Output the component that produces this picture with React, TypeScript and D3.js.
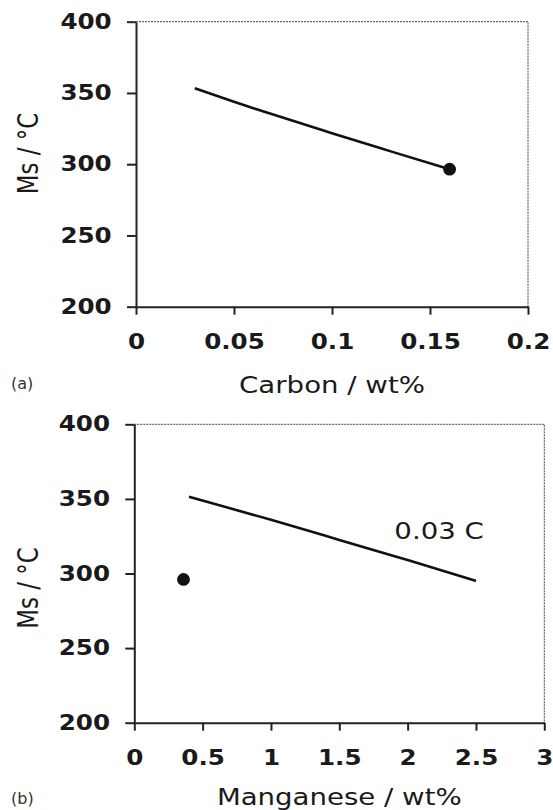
import { useEffect, useRef } from "react"
import * as d3 from "d3"

// values
const CARBON = [0.03, 0.05, 0.07, 0.1, 0.13, 0.16]
const MS_CARBON = [353.3, 343.8, 334.8, 321.8, 309, 296.5]
const MANGANESE = [0.4, 1, 1.5, 2, 2.5]
const MS_MANGANESE = [351.5, 336, 322.5, 309, 295]
const DOT_CARBON = [0.16, 296.5]
const DOT_MANGANESE = [0.36, 296]
const C_TICKS = [0, 0.05, 0.1, 0.15, 0.2]
const MN_TICKS = [0, 0.5, 1, 1.5, 2, 2.5, 3]
const MS_TICKS = [200, 250, 300, 350, 400]
const LINE_LABEL = "0.03 C"
const LINE_LABEL_POS = [2.23, 323]

const FONT = "'DejaVu Sans', Verdana, sans-serif"
const SX = 1.2 // the original figure is stretched sideways

export default function App() {
    const svgRef = useRef<SVGSVGElement>(null)

    useEffect(() => {
        const svg = d3.select(svgRef.current)
        svg.selectAll("*").remove()

        const panels = [
            {
                xs: CARBON, ys: MS_CARBON, dot: DOT_CARBON, xdomain: [0, 0.2], xticks: C_TICKS,
                left: 136, right: 528, top: 21.7, bottom: 306.7,
                xtitle: "Carbon / wt%", xtitleY: 393, ytitleY: 153.5, tag: "(a)", tagY: 389,
                label: null as string | null,
            },
            {
                xs: MANGANESE, ys: MS_MANGANESE, dot: DOT_MANGANESE, xdomain: [0, 3], xticks: MN_TICKS,
                left: 134.3, right: 544.3, top: 424.3, bottom: 722.7,
                xtitle: "Manganese / wt%", xtitleY: 805, ytitleY: 588, tag: "(b)", tagY: 804,
                label: LINE_LABEL,
            },
        ]

        panels.forEach(p => {
            const x = d3.scaleLinear().domain(p.xdomain).range([p.left, p.right])
            const y = d3.scaleLinear().domain([200, 400]).range([p.bottom, p.top])
            const g = svg.append("g")

            // dotted top / right border
            g.append("path")
                .attr("d", `M${p.left},${p.top}H${p.right}V${p.bottom}`)
                .attr("fill", "none")
                .attr("stroke", "#444")
                .attr("stroke-width", 1)
                .attr("stroke-dasharray", "2,1")

            const yAxis = g.append("g")
                .attr("transform", `translate(${p.left},0)`)
                .call(d3.axisLeft(y).tickValues(MS_TICKS).tickSize(9).tickSizeOuter(0).tickFormat(d => String(d)))
            const xAxis = g.append("g")
                .attr("transform", `translate(0,${p.bottom})`)
                .call(d3.axisBottom(x).tickValues(p.xticks).tickSize(8).tickSizeOuter(0).tickFormat(d => String(d)))

            ;[yAxis, xAxis].forEach(a => {
                a.select(".domain").attr("stroke", "#222").attr("stroke-width", 2)
                a.selectAll(".tick line").attr("stroke", "#222").attr("stroke-width", 2)
                a.selectAll(".tick text")
                    .attr("fill", "#1a1a1a")
                    .attr("font-family", FONT)
                    .attr("font-size", 20.5)
                    .attr("font-weight", "bold")
                    .attr("transform", `scale(${SX},1)`)
            })
            yAxis.selectAll(".tick text").attr("x", -24.3 / SX)
            xAxis.selectAll(".tick text").attr("y", 27.5)

            // line
            g.append("path")
                .datum(p.xs.map((v, i) => [v, p.ys[i]]))
                .attr("fill", "none")
                .attr("stroke", "#111")
                .attr("stroke-width", 2.6)
                .attr("d", d3.line<number[]>().x(d => x(d[0])).y(d => y(d[1])).curve(d3.curveNatural))

            g.append("circle")
                .attr("cx", x(p.dot[0]))
                .attr("cy", y(p.dot[1]))
                .attr("r", 6.4)
                .attr("fill", "#111")

            if (p.label) {
                g.append("text")
                    .attr("transform", `translate(${x(LINE_LABEL_POS[0])},${y(LINE_LABEL_POS[1])}) scale(${SX},1)`)
                    .attr("text-anchor", "middle")
                    .attr("font-family", FONT)
                    .attr("font-size", 23)
                    .attr("fill", "#1a1a1a")
                    .text(p.label)
            }

            g.append("text")
                .attr("transform", `translate(${(p.left + p.right) / 2},${p.xtitleY}) scale(${SX},1)`)
                .attr("text-anchor", "middle")
                .attr("font-family", FONT)
                .attr("font-size", 23)
                .attr("fill", "#1a1a1a")
                .text(p.xtitle)

            g.append("text")
                .attr("transform", `translate(38,${p.ytitleY}) scale(${SX},1) rotate(-90)`)
                .attr("text-anchor", "middle")
                .attr("font-family", FONT)
                .attr("font-size", 23)
                .attr("fill", "#1a1a1a")
                .text("Ms / °C")

            g.append("text")
                .attr("x", 11)
                .attr("y", p.tagY)
                .attr("font-family", FONT)
                .attr("font-size", 16)
                .attr("fill", "#333")
                .text(p.tag)
        })
    }, [])

    return (
        <svg
            ref={svgRef}
            width={553}
            height={810}
            style={{ position: "absolute", left: 0, top: 0, background: "white" }}
        />
    )
}
